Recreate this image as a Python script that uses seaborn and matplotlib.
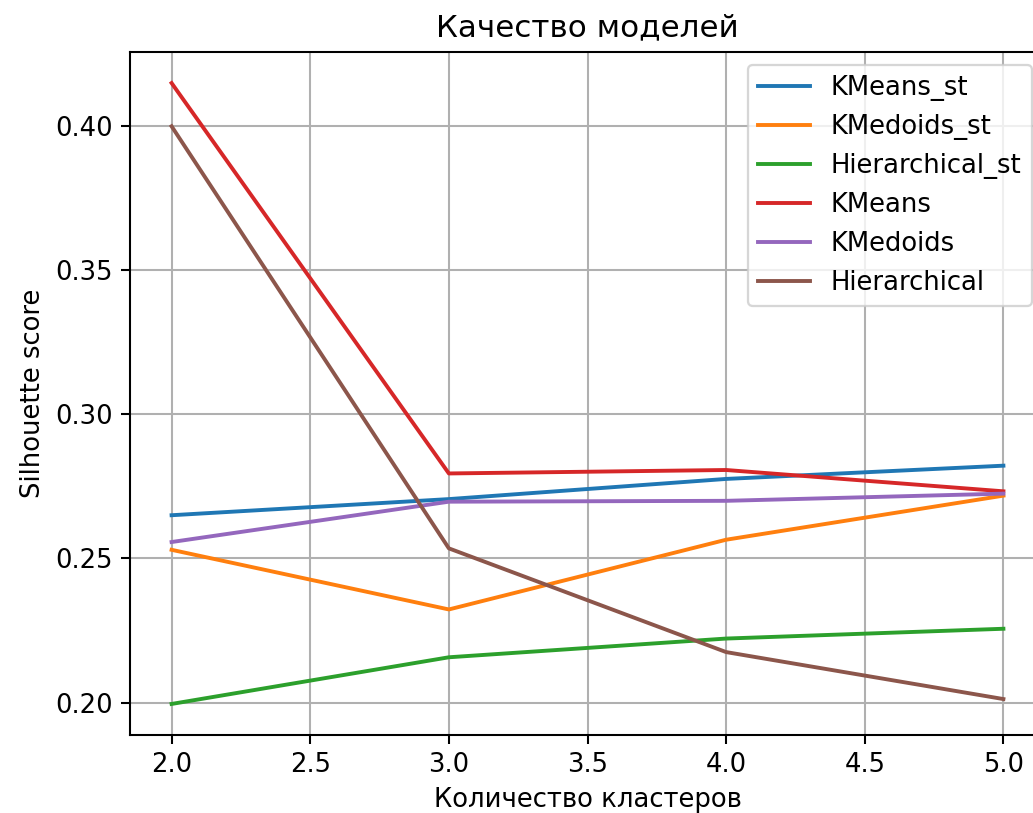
import matplotlib
matplotlib.use("Agg")
import matplotlib.pyplot as plt
import seaborn as sns
import pandas as pd

n_clusters = [2, 3, 4, 5]
kmeans_st = [0.2650, 0.2706, 0.2776, 0.2822]
kmedoids_st = [0.2530, 0.2323, 0.2565, 0.2718]
hierarchical_st = [0.1995, 0.2157, 0.2222, 0.2256]
kmeans = [0.4150, 0.2795, 0.2807, 0.2733]
kmedoids = [0.2557, 0.2697, 0.2700, 0.2725]
hierarchical = [0.4000, 0.2535, 0.2175, 0.2012]

series = {
    "KMeans_st": kmeans_st,
    "KMedoids_st": kmedoids_st,
    "Hierarchical_st": hierarchical_st,
    "KMeans": kmeans,
    "KMedoids": kmedoids,
    "Hierarchical": hierarchical,
}

s = 1.13
plt.rcParams.update({
    "font.size": 10 * s,
    "axes.titlesize": 12 * s,
    "xtick.major.size": 3.5 * s,
    "ytick.major.size": 3.5 * s,
    "xtick.major.width": 0.8 * s,
    "ytick.major.width": 0.8 * s,
    "axes.linewidth": 0.8 * s,
    "grid.linewidth": 0.8 * s,
})

dpi = 165
fig = plt.figure(figsize=(1033 / dpi, 813 / dpi), dpi=dpi)
ax = fig.add_axes([130 / 1033, 1 - 735 / 813, 915 / 1033, 683 / 813])

palette = sns.color_palette("tab10", 6)
for (name, vals), col in zip(series.items(), palette):
    df = pd.DataFrame({"k": n_clusters, "score": vals})
    sns.lineplot(data=df, x="k", y="score", ax=ax, label=name, color=col, linewidth=1.5 * s)

ax.grid(True)
ax.set_title("Качество моделей", pad=6 * s)
ax.set_xlabel("Количество кластеров")
ax.set_ylabel("Silhouette score")
ax.legend(loc="upper right")

fig.savefig("out.png", dpi=dpi)
